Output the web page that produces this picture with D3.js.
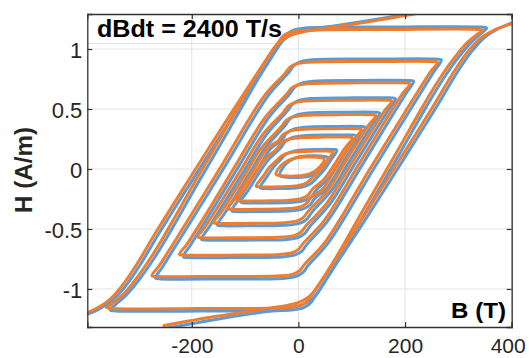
<!DOCTYPE html>
<html><head><meta charset="utf-8">
<script src="https://cdn.jsdelivr.net/npm/d3@7"></script>
<style>body{margin:0;background:#fff}svg{display:block}</style>
</head><body><svg id="c" width="529" height="358"></svg>
<script>
// ---- data (B in T, H in A/m) ----
const xTicks = [-200, 0, 200, 400];
const yTicks = [-1, -0.5, 0, 0.5, 1];
const titleText = "dBdt = 2400 T/s";

const blueMajorUp = [[-245,-1.325],[-150,-1.25],[-63,-1.19],[-20,-1.162],[5,-1.135],[22,-1.095],[35,-1.04],[55,-0.9],[120,-0.46],[200,0.1],[262,0.54],[297,0.8],[325,0.98],[350,1.1],[375,1.17],[410,1.235]];
const blueMajorDown = [[245,1.325],[150,1.25],[63,1.19],[20,1.162],[-5,1.135],[-22,1.095],[-35,1.04],[-55,0.9],[-120,0.46],[-200,-0.1],[-262,-0.54],[-297,-0.8],[-325,-0.98],[-350,-1.1],[-375,-1.17],[-410,-1.235]];
const orangeMajorUp = [[-252,-1.305],[-157,-1.23],[-70,-1.17],[-27,-1.142],[-2,-1.117],[15,-1.08],[28,-1.03],[48,-0.9],[113,-0.46],[193,0.1],[255,0.54],[290,0.8],[318,0.98],[343,1.095],[368,1.16],[410,1.225]];
const orangeMajorDown = [[238,1.31],[143,1.235],[56,1.175],[13,1.147],[-12,1.12],[-29,1.08],[-42,1.03],[-62,0.9],[-127,0.46],[-207,-0.1],[-269,-0.54],[-304,-0.8],[-332,-0.98],[-357,-1.1],[-382,-1.17],[-417,-1.235]];

const blueLoops = [
 [[353,1.175],[343,1.183],[183,1.183],[13,1.175],[-9,1.157],[-21,1.125],[-30,1.07],[-69,0.8],[-130,0.33],[-190,-0.13],[-240,-0.52],[-270,-0.74],[-300,-0.93],[-325,-1.06],[-343,-1.13],[-353,-1.175],
  [-343,-1.183],[-183,-1.183],[-13,-1.175],[9,-1.157],[21,-1.125],[30,-1.07],[69,-0.8],[130,-0.33],[190,0.13],[240,0.52],[270,0.74],[300,0.93],[325,1.06],[343,1.13]],
 [[268,0.91],[258,0.916],[147,0.916],[25,0.91],[3,0.892],[-9,0.86],[-18,0.805],[-57,0.61],[-141,0],[-226,-0.61],[-254,-0.81],[-268,-0.91],
  [-258,-0.916],[-147,-0.916],[-25,-0.91],[-3,-0.892],[9,-0.86],[18,-0.805],[57,-0.61],[141,0],[226,0.61],[254,0.81]],
 [[216,0.732],[206,0.738],[122,0.738],[27,0.732],[5,0.714],[-7,0.682],[-16,0.627],[-55,0.432],[-115,0],[-174,-0.432],[-202,-0.632],[-216,-0.732],
  [-206,-0.738],[-122,-0.738],[-27,-0.732],[-5,-0.714],[7,-0.682],[16,-0.627],[55,-0.432],[115,0],[174,0.432],[202,0.632]],
 [[182,0.587],[172,0.593],[102,0.593],[22,0.587],[0,0.569],[-12,0.537],[-21,0.482],[-60,0.287],[-100,0],[-140,-0.287],[-168,-0.487],[-182,-0.587],
  [-172,-0.593],[-102,-0.593],[-22,-0.587],[0,-0.569],[12,-0.537],[21,-0.482],[60,-0.287],[100,0],[140,0.287],[168,0.487]],
 [[152,0.467],[142,0.473],[85,0.473],[18,0.467],[-4,0.449],[-16,0.417],[-25,0.362],[-64,0.167],[-87,0],[-110,-0.167],[-138,-0.367],[-152,-0.467],
  [-142,-0.473],[-85,-0.473],[-18,-0.467],[4,-0.449],[16,-0.417],[25,-0.362],[64,-0.167],[87,0],[110,0.167],[138,0.367]],
 [[125,0.348],[115,0.354],[68,0.354],[12,0.348],[-10,0.33],[-22,0.298],[-31,0.243],[-52,0.17],[-76,0],[-111,-0.248],[-125,-0.348],
  [-115,-0.354],[-68,-0.354],[-12,-0.348],[10,-0.33],[22,-0.298],[31,-0.243],[52,-0.17],[76,0],[111,0.248]],
 [[108,0.277],[98,0.283],[58,0.283],[9,0.277],[-13,0.259],[-25,0.227],[-34,0.172],[-54,0.09],[-69,0],[-94,-0.177],[-108,-0.277],
  [-98,-0.283],[-58,-0.283],[-9,-0.277],[13,-0.259],[25,-0.227],[34,-0.172],[54,-0.09],[69,0],[94,0.177]],
 [[72,0.158],[63,0.163],[36,0.163],[5,0.158],[-12,0.145],[-24,0.12],[-33,0.08],[-46,0.02],[-60,-0.07],[-72,-0.158],
  [-63,-0.163],[-36,-0.163],[-5,-0.158],[12,-0.145],[24,-0.12],[33,-0.08],[46,-0.02],[60,0.07]],
 [[55,0.095],[42,0.108],[20,0.11],[0,0.1],[-15,0.072],[-26,0.03],[-35,-0.055],
  [-22,-0.068],[0,-0.07],[20,-0.06],[35,-0.032],[46,0.01]]
];

const orangeLoops = [
 [[346,1.155],[336,1.163],[176,1.163],[6,1.155],[-16,1.139],[-28,1.111],[-37,1.06],[-76,0.8],[-137,0.33],[-197,-0.13],[-247,-0.52],[-277,-0.74],[-307,-0.93],[-332,-1.06],[-350,-1.125],[-360,-1.155],
  [-350,-1.163],[-190,-1.163],[-20,-1.155],[2,-1.139],[14,-1.111],[23,-1.06],[62,-0.8],[123,-0.33],[183,0.13],[233,0.52],[263,0.74],[293,0.93],[318,1.06],[336,1.125]],
 [[261,0.89],[251,0.896],[140,0.896],[18,0.89],[-4,0.876],[-16,0.848],[-25,0.797],[-64,0.61],[-148,0],[-233,-0.61],[-261,-0.805],[-275,-0.89],
  [-265,-0.896],[-154,-0.896],[-32,-0.89],[-10,-0.876],[2,-0.848],[11,-0.797],[50,-0.61],[134,0],[219,0.61],[247,0.805]],
 [[209,0.712],[199,0.718],[115,0.718],[20,0.712],[-2,0.698],[-14,0.67],[-23,0.619],[-62,0.432],[-122,0],[-181,-0.432],[-209,-0.627],[-223,-0.712],
  [-213,-0.718],[-129,-0.718],[-34,-0.712],[-12,-0.698],[0,-0.67],[9,-0.619],[48,-0.432],[108,0],[167,0.432],[195,0.627]],
 [[175,0.567],[165,0.573],[95,0.573],[15,0.567],[-7,0.553],[-19,0.525],[-28,0.474],[-67,0.287],[-107,0],[-147,-0.287],[-175,-0.482],[-189,-0.567],
  [-179,-0.573],[-109,-0.573],[-29,-0.567],[-7,-0.553],[5,-0.525],[14,-0.474],[53,-0.287],[93,0],[133,0.287],[161,0.482]],
 [[145,0.447],[135,0.453],[78,0.453],[11,0.447],[-11,0.433],[-23,0.405],[-32,0.354],[-71,0.167],[-94,0],[-117,-0.167],[-145,-0.362],[-159,-0.447],
  [-149,-0.453],[-92,-0.453],[-25,-0.447],[-3,-0.433],[9,-0.405],[18,-0.354],[57,-0.167],[80,0],[103,0.167],[131,0.362]],
 [[118,0.33],[108,0.336],[61,0.336],[5,0.33],[-17,0.316],[-29,0.286],[-38,0.235],[-59,0.17],[-83,0],[-118,-0.243],[-132,-0.33],
  [-122,-0.336],[-75,-0.336],[-19,-0.33],[3,-0.316],[15,-0.286],[24,-0.235],[45,-0.17],[69,0],[104,0.243]],
 [[101,0.26],[91,0.266],[51,0.266],[2,0.26],[-20,0.246],[-32,0.217],[-41,0.165],[-61,0.09],[-76,0],[-101,-0.172],[-115,-0.26],
  [-105,-0.266],[-65,-0.266],[-16,-0.26],[6,-0.246],[18,-0.217],[27,-0.165],[47,-0.09],[62,0],[87,0.172]],
 [[65,0.144],[56,0.149],[29,0.149],[-2,0.144],[-19,0.133],[-31,0.11],[-40,0.074],[-53,0.02],[-67,-0.066],[-79,-0.144],
  [-70,-0.149],[-43,-0.149],[-12,-0.144],[5,-0.133],[17,-0.11],[26,-0.074],[39,-0.02],[53,0.066]],
 [[48,0.085],[35,0.097],[13,0.099],[-7,0.09],[-22,0.065],[-33,0.028],[-42,-0.045],
  [-29,-0.057],[-7,-0.059],[13,-0.05],[28,-0.025],[39,0.012]]
];

// ---- layout ----
const L = 87.3, R = 511.7, T = 14, B = 327;
const x = d3.scaleLinear().domain([-396, 400]).range([L, R]);
const y = d3.scaleLinear().domain([-1.317, 1.292]).range([B, T]);
const svg = d3.select("#c");
const FONT = "'Liberation Sans', Arial, Helvetica, sans-serif";
const gridC = "#e3e3e3", axC = "#333333";

svg.append("defs").append("clipPath").attr("id", "clip")
  .append("rect").attr("x", L).attr("y", T).attr("width", R - L).attr("height", B - T);

// grid
const grid = svg.append("g");
grid.selectAll(".gx").data(xTicks).enter().append("line")
  .attr("x1", d => x(d)).attr("x2", d => x(d)).attr("y1", T).attr("y2", B)
  .attr("stroke", gridC).attr("stroke-width", 1);
grid.selectAll(".gy").data(yTicks).enter().append("line")
  .attr("x1", L).attr("x2", R).attr("y1", d => y(d)).attr("y2", d => y(d))
  .attr("stroke", gridC).attr("stroke-width", 1);

// title box underline
svg.append("line").attr("x1", L).attr("x2", 283).attr("y1", 43.5).attr("y2", 43.5)
  .attr("stroke", "#e3e3e3").attr("stroke-width", 1);

// curves
const plot = svg.append("g").attr("clip-path", "url(#clip)");
const lineOpen = d3.line().x(d => x(d[0])).y(d => y(d[1])).curve(d3.curveCatmullRom.alpha(0.5));
const lineClosed = d3.line().x(d => x(d[0])).y(d => y(d[1])).curve(d3.curveCatmullRomClosed.alpha(0.5));
const blue = "#5b9bd5", orange = "#ed7d31";
function drawSet(loops, up, down, color) {
  const g = plot.append("g").attr("fill", "none").attr("stroke", color)
    .attr("stroke-width", 3).attr("stroke-linejoin", "round").attr("stroke-linecap", "round");
  g.selectAll("path.loop").data(loops).enter().append("path").attr("d", d => lineClosed(d));
  g.append("path").attr("d", lineOpen(up));
  g.append("path").attr("d", lineOpen(down));
}
drawSet(blueLoops, blueMajorUp, blueMajorDown, blue);
drawSet(orangeLoops, orangeMajorUp, orangeMajorDown, orange);

// axes
const fmt = d => String(d);
const ax = svg.append("g");
const gL = ax.append("g").attr("transform", `translate(${L},0)`)
  .call(d3.axisLeft(y).tickValues(yTicks).tickSize(-5).tickPadding(5).tickFormat(fmt));
const gR = ax.append("g").attr("transform", `translate(${R},0)`)
  .call(d3.axisRight(y).tickValues(yTicks).tickSize(-5).tickFormat(""));
const gB = ax.append("g").attr("transform", `translate(0,${B})`)
  .call(d3.axisBottom(x).tickValues(xTicks).tickSize(-5).tickPadding(11).tickFormat(fmt));
const gT = ax.append("g").attr("transform", `translate(0,${T})`)
  .call(d3.axisTop(x).tickValues(xTicks).tickSize(-5).tickFormat(""));
[gL, gR, gB, gT].forEach(g => {
  g.select(".domain").attr("stroke", axC).attr("stroke-width", 1.3);
  g.selectAll(".tick line").attr("stroke", axC).attr("stroke-width", 1.2);
  g.selectAll("text").attr("fill", "#262626").style("font-family", FONT).style("font-size", "21px");
});
gL.selectAll("text").style("font-size", "22px").attr("dy", "0.40em");
gB.selectAll("text").attr("dy", "0.71em").filter(d => d === 400).attr("dx", -4);

// labels
svg.append("text").attr("x", 97).attr("y", 36.7).text(titleText)
  .attr("textLength", 185).attr("lengthAdjust", "spacingAndGlyphs")
  .style("font-family", FONT).style("font-size", "23px").style("font-weight", "bold").attr("fill", "#000");
svg.append("text").attr("x", 506).attr("y", 318.3).attr("text-anchor", "end").text("B (T)")
  .attr("textLength", 55).attr("lengthAdjust", "spacingAndGlyphs")
  .style("font-family", FONT).style("font-size", "22px").style("font-weight", "bold").attr("fill", "#000");
svg.append("text").attr("transform", "translate(32,170) rotate(-90)").attr("text-anchor", "middle").text("H (A/m)")
  .attr("textLength", 86).attr("lengthAdjust", "spacingAndGlyphs")
  .style("font-family", FONT).style("font-size", "23px").style("font-weight", "bold").attr("fill", "#262626");
</script></body></html>
